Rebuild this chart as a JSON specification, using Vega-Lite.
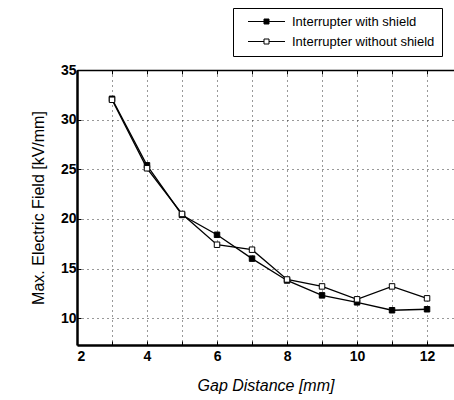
{
  "$schema": "https://vega.github.io/schema/vega-lite/v6.json",
  "width": 377,
  "height": 275,
  "autosize": "none",
  "padding": {"left": 77, "top": 70, "right": 0, "bottom": 55},
  "background": "white",
  "config": {
    "view": {"stroke": null},
    "font": "Liberation Sans",
    "axis": {"labelFont": "Liberation Sans", "titleFont": "Liberation Sans"}
  },
  "data": {
    "values": [
      {"gap": 3, "field": 32.1, "series": "Interrupter with shield"},
      {"gap": 4, "field": 25.4, "series": "Interrupter with shield"},
      {"gap": 5, "field": 20.4, "series": "Interrupter with shield"},
      {"gap": 6, "field": 18.4, "series": "Interrupter with shield"},
      {"gap": 7, "field": 16.0, "series": "Interrupter with shield"},
      {"gap": 8, "field": 13.8, "series": "Interrupter with shield"},
      {"gap": 9, "field": 12.3, "series": "Interrupter with shield"},
      {"gap": 10, "field": 11.6, "series": "Interrupter with shield"},
      {"gap": 11, "field": 10.8, "series": "Interrupter with shield"},
      {"gap": 12, "field": 10.9, "series": "Interrupter with shield"},
      {"gap": 3, "field": 32.0, "series": "Interrupter without shield"},
      {"gap": 4, "field": 25.1, "series": "Interrupter without shield"},
      {"gap": 5, "field": 20.5, "series": "Interrupter without shield"},
      {"gap": 6, "field": 17.4, "series": "Interrupter without shield"},
      {"gap": 7, "field": 16.9, "series": "Interrupter without shield"},
      {"gap": 8, "field": 13.9, "series": "Interrupter without shield"},
      {"gap": 9, "field": 13.2, "series": "Interrupter without shield"},
      {"gap": 10, "field": 11.9, "series": "Interrupter without shield"},
      {"gap": 11, "field": 13.2, "series": "Interrupter without shield"},
      {"gap": 12, "field": 12.0, "series": "Interrupter without shield"}
    ]
  },
  "layer": [
    {
      "mark": {"type": "line", "color": "black", "strokeWidth": 1.3},
      "encoding": {
        "x": {
          "field": "gap", "type": "quantitative",
          "scale": {"domain": [2, 12.77], "nice": false, "zero": false},
          "axis": {
            "orient": "bottom",
            "values": [2, 3, 4, 5, 6, 7, 8, 9, 10, 11, 12],
            "labelExpr": "datum.value % 2 == 0 ? datum.label : ''",
            "title": "Gap Distance [mm]",
            "titleFontStyle": "italic",
            "titleFontWeight": "normal",
            "titleFontSize": 16,
            "titleColor": "black",
            "titlePadding": 14,
            "labelFontSize": 14,
            "labelFontWeight": "bold",
            "labelColor": "black",
            "labelPadding": 8,
            "domainColor": "black",
            "domainWidth": 2.5,
            "ticks": true,
            "tickSize": -4,
            "tickColor": "black",
            "grid": true,
            "gridColor": "#333",
            "gridDash": [1, 4],
            "gridWidth": 1
          }
        },
        "y": {
          "field": "field", "type": "quantitative",
          "scale": {"domain": [7.3, 35], "nice": false, "zero": false},
          "axis": {
            "values": [10, 12.5, 15, 17.5, 20, 22.5, 25, 27.5, 30, 32.5, 35],
            "labelExpr": "datum.value % 5 == 0 ? datum.label : ''",
            "title": "Max. Electric Field [kV/mm]",
            "titleFontWeight": "normal",
            "titleFontSize": 16,
            "titleColor": "black",
            "titlePadding": 14,
            "labelFontSize": 14,
            "labelFontWeight": "bold",
            "labelColor": "black",
            "labelPadding": 5,
            "domainColor": "black",
            "domainWidth": 2.5,
            "tickSize": -4,
            "tickColor": "black",
            "grid": true,
            "gridColor": "#333",
            "gridDash": [1, 4],
            "gridWidth": 1
          }
        },
        "detail": {"field": "series"}
      }
    },
    {
      "mark": {"type": "point", "shape": "square", "filled": true, "size": 30, "stroke": "black", "strokeWidth": 1, "opacity": 1},
      "encoding": {
        "x": {
          "field": "gap", "type": "quantitative",
          "axis": {
            "orient": "top",
            "values": [2, 3, 4, 5, 6, 7, 8, 9, 10, 11, 12],
            "labels": false,
            "title": null,
            "grid": false,
            "domainColor": "black",
            "domainWidth": 1.5,
            "tickSize": -4,
            "tickColor": "black"
          }
        },
        "y": {"field": "field", "type": "quantitative"},
        "fill": {
          "field": "series", "type": "nominal",
          "scale": {"domain": ["Interrupter with shield", "Interrupter without shield"], "range": ["black", "white"]},
          "legend": {
            "title": null,
            "orient": "none",
            "legendX": 156,
            "legendY": -62,
            "padding": 7,
            "strokeColor": "black",
            "fillColor": "white",
            "symbolType": "M-3.7,0H-0.5M0.5,0H3.7M-0.5,-0.5H0.5V0.5H-0.5Z",
            "symbolSize": 100,
            "symbolStrokeColor": "black",
            "symbolStrokeWidth": 1,
            "symbolOffset": 20,
            "labelOffset": 19,
            "labelFontSize": 13,
            "labelColor": "black",
            "rowPadding": 6
          }
        }
      }
    }
  ],
  "resolve": {"axis": {"x": "independent"}}
}
